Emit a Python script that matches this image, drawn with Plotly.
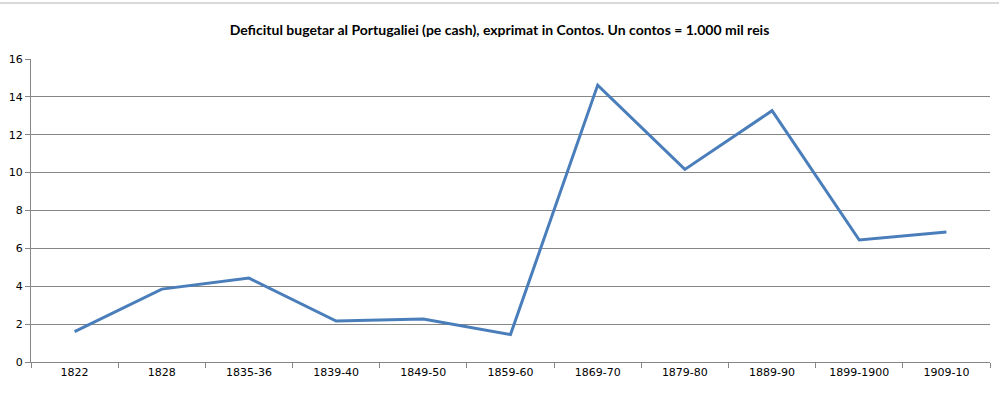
import plotly.graph_objects as go

categories = ["1822", "1828", "1835-36", "1839-40", "1849-50", "1859-60",
              "1869-70", "1879-80", "1889-90", "1899-1900", "1909-10"]
deficit = [1.6, 3.85, 4.43, 2.16, 2.27, 1.45, 14.62, 10.17, 13.27, 6.44, 6.86]
y_ticks = [0, 2, 4, 6, 8, 10, 12, 14, 16]
title_text = "Deficitul bugetar al Portugaliei (pe cash), exprimat in Contos. Un contos = 1.000 mil reis"

W, H = 999, 394

fig = go.Figure()
fig.add_trace(go.Scatter(
    x=categories, y=deficit, mode="lines",
    line=dict(color="#4a7ebb", width=3),
    hoverinfo="x+y",
))

fig.update_layout(
    width=W, height=H,
    margin=dict(l=31, r=9, t=59, b=32),
    paper_bgcolor="white", plot_bgcolor="white",
    showlegend=False,
    title=dict(text="<b>" + title_text + "</b>", x=0.5, xanchor="center",
               y=1 - 30 / H, yanchor="middle",
               font=dict(family="Lato", size=14, color="black")),
    font=dict(family="DejaVu Sans", size=11, color="black"),
    shapes=[dict(type="line", xref="paper", yref="paper",
                 x0=-31 / 959, x1=1 + 9 / 959,
                 y0=1 + (59 - 3) / 303, y1=1 + (59 - 3) / 303,
                 line=dict(color="#b4b4b4", width=1))],
)
fig.update_xaxes(
    type="category", tickson="boundaries", ticks="outside", ticklen=5,
    tickcolor="#868686", showline=True, linecolor="#868686", linewidth=1,
    showgrid=False, tickfont=dict(family="DejaVu Sans", size=11, color="black"),
    range=[-0.5, len(categories) - 0.5],
)
fig.update_yaxes(
    range=[0, 16], tickvals=y_ticks, ticks="outside", ticklen=5,
    tickcolor="#868686", showline=True, linecolor="#868686", linewidth=1,
    showgrid=True, gridcolor="#868686", gridwidth=1, zeroline=False,
    tickfont=dict(family="DejaVu Sans", size=11, color="black"),
)

fig.write_html("out.html", config={"displayModeBar": False},
               post_script="document.body.style.margin='0';document.body.style.overflow='hidden';")
